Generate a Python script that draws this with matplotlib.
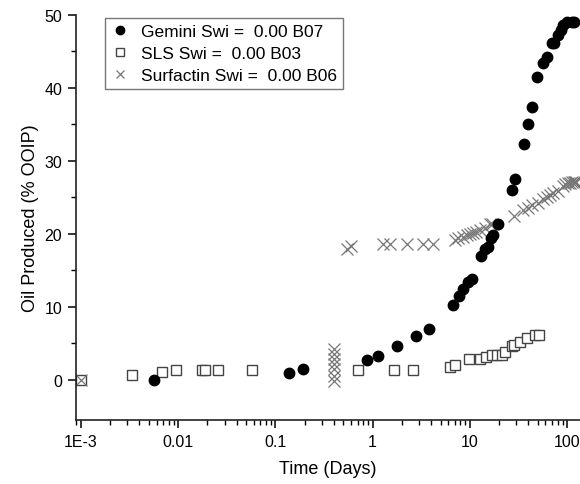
import numpy as np
import matplotlib
matplotlib.use('Agg')
import matplotlib.pyplot as plt
from matplotlib.ticker import FixedLocator, FixedFormatter, LogLocator, MultipleLocator

plt.rcParams['font.family'] = ['Liberation Sans', 'DejaVu Sans']

# Gemini Swi = 0.00 B07
gemini_t = [0.0056, 0.138, 0.194, 0.88, 1.14, 1.8, 2.77, 3.78, 6.67, 7.74, 8.57, 9.66, 10.5,
            13.1, 14.3, 15.5, 16.6, 17.5, 19.6, 27.0, 29.5, 36.1, 39.4, 43.3, 48.7, 56.2,
            62.2, 69.5, 74.1, 81.5, 86.8, 91.6, 99.3, 112, 118]
gemini_oil = [0.0, 0.96, 1.43, 2.78, 3.29, 4.70, 6.03, 6.99, 10.2, 11.5, 12.5, 13.4, 13.8,
              17.0, 17.9, 18.2, 19.5, 19.8, 21.3, 26.0, 27.5, 32.3, 35.1, 37.4, 41.5, 43.4,
              44.3, 46.1, 46.1, 47.2, 47.9, 48.6, 49.0, 49.1, 49.0]

# SLS Swi = 0.00 B03
sls_t = [0.001, 0.00337, 0.0068, 0.0094, 0.0175, 0.019, 0.0255, 0.0574, 0.713, 1.67, 2.62,
         6.2, 7.1, 9.9, 12.7, 14.7, 16.8, 19.1, 21.5, 23.3, 27.0, 28.4, 32.7, 38.8, 46.4, 51.2]
sls_oil = [0.0, 0.73, 1.05, 1.37, 1.37, 1.37, 1.37, 1.37, 1.37, 1.37, 1.37,
           1.7, 2.05, 2.8, 2.8, 3.1, 3.4, 3.4, 3.4, 3.8, 4.7, 4.8, 5.2, 5.7, 6.1, 6.1]

# Surfactin Swi = 0.00 B06
surf_t = [0.001, 0.404, 0.404, 0.404, 0.404, 0.404, 0.404, 0.404, 0.55, 0.6,
          1.29, 1.51, 2.24, 3.33, 4.16, 7.0, 7.6, 8.6, 9.4, 10.0, 10.9, 11.5, 12.8, 14.3,
          16.1, 17.1, 28.6, 35.0, 39.5, 43.2, 50.6, 57.0, 61.9, 67.0, 72.5, 80.0, 90.0,
          95.8, 103, 108, 112, 117, 121, 125]
surf_oil = [0.0, -0.1, 0.59, 1.5, 2.19, 2.88, 3.56, 4.25, 17.9, 18.4,
            18.6, 18.6, 18.6, 18.6, 18.6, 19.2, 19.4, 19.6, 19.8, 20.0, 20.1, 20.3, 20.5, 20.8,
            21.3, 21.4, 22.5, 23.3, 23.6, 23.9, 24.3, 24.8, 25.0, 25.3, 25.6, 25.9, 26.6,
            26.8, 27.0, 27.0, 27.1, 27.1, 27.1, 27.1]

xticks = [0.001, 0.01, 0.1, 1, 10, 100]
xticklabels = ['1E-3', '0.01', '0.1', '1', '10', '100']

fig = plt.figure(figsize=(5.8, 4.85), dpi=100)
ax = fig.add_axes([0.131, 0.132, 0.869, 0.835])

ax.plot(gemini_t, gemini_oil, 'o', color='black', ms=7.5, mec='black',
        label='Gemini Swi =  0.00 B07', zorder=3)
ax.plot(sls_t, sls_oil, 's', color='#444444', mfc='white', mec='#444444', ms=6.5, mew=1.0,
        label='SLS Swi =  0.00 B03', zorder=2)
ax.plot(surf_t, surf_oil, 'x', color='#777777', ms=8, mew=0.9,
        label='Surfactin Swi =  0.00 B06', zorder=2)

ax.set_xscale('log')
ax.set_xlim(10 ** -3.051, 10 ** 2.134)
ax.set_ylim(-5.5, 50)

ax.xaxis.set_major_locator(FixedLocator(xticks))
ax.xaxis.set_major_formatter(FixedFormatter(xticklabels))
ax.xaxis.set_minor_locator(LogLocator(base=10, subs=np.arange(2, 10)))
ax.yaxis.set_major_locator(FixedLocator([0, 10, 20, 30, 40, 50]))
ax.yaxis.set_minor_locator(FixedLocator([5, 15, 25, 35, 45]))

for s in ['top', 'right']:
    ax.spines[s].set_visible(False)
for s in ['left', 'bottom']:
    ax.spines[s].set_linewidth(1.2)
    ax.spines[s].set_color('#222222')
ax.spines['left'].set_bounds(-5.5, 50)

ax.tick_params(which='major', direction='out', length=6, width=1.1, labelsize=11.5, pad=4)
ax.tick_params(which='minor', direction='out', length=3.5, width=1.0)

ax.set_xlabel('Time (Days)', fontsize=13, labelpad=8)
ax.set_ylabel('Oil Produced (% OOIP)', fontsize=13, labelpad=4)

leg = ax.legend(loc='upper left', bbox_to_anchor=(0.0575, 0.993), borderaxespad=0,
                fontsize=12.5, frameon=True, fancybox=False, handletextpad=0.7,
                labelspacing=0.4, borderpad=0.35, handlelength=1.0, markerscale=0.8)
leg.get_frame().set_edgecolor('#555555')
leg.get_frame().set_linewidth(1.0)

fig.savefig('out.png', dpi=100)
